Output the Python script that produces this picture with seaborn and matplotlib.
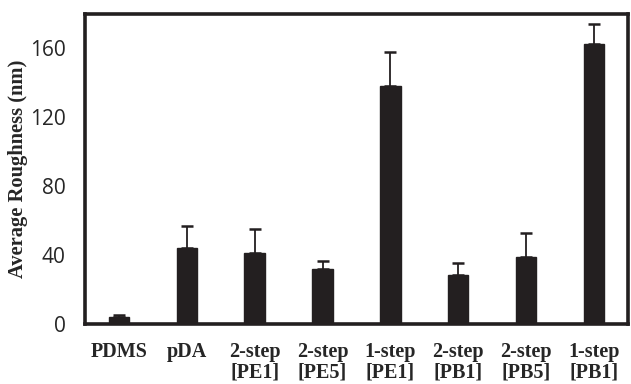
import numpy as np
import pandas as pd
import matplotlib
matplotlib.use("Agg")
import matplotlib.pyplot as plt
import seaborn as sns

# data
samples = ["PDMS", "pDA", "2-step\n[PE1]", "2-step\n[PE5]", "1-step\n[PE1]",
           "2-step\n[PB1]", "2-step\n[PB5]", "1-step\n[PB1]"]
roughness = [4.3, 44, 41, 31.7, 138, 28.6, 38.8, 162.5]
roughness_err = [0.8, 13, 14, 5, 20, 7, 14, 11.5]

df = pd.DataFrame({"sample": samples, "roughness": roughness})

sns.set_style("white")
plt.rcParams["font.family"] = ["Open Sans", "DejaVu Sans"]

fig = plt.figure(figsize=(6.31, 3.84), dpi=100)
ax = fig.add_axes([0.1347, 0.156, 0.8605, 0.8075])

bar_color = "#231f20"
sns.barplot(data=df, x="sample", y="roughness", color=bar_color, width=0.30,
            errorbar=None, saturation=1, ax=ax)
for p in ax.patches:
    p.set_edgecolor(bar_color)

xpos = ax.get_xticks()
ax.errorbar(xpos, roughness, yerr=[np.zeros(len(roughness_err)), roughness_err],
            fmt="none", ecolor=bar_color, elinewidth=1.3, capsize=4, capthick=1.8)

ax.set_xlim(-0.5, 7.5)
ax.set_ylim(0, 180)
ax.set_yticks([0, 40, 80, 120, 160])
ax.tick_params(axis="both", length=0)
ax.tick_params(axis="y", labelsize=15, pad=14)
ax.tick_params(axis="x", pad=13)

for lab in ax.get_xticklabels():
    lab.set_fontfamily("Liberation Serif")
    lab.set_fontweight("bold")
    lab.set_fontsize(14.5)
    lab.set_linespacing(1.0)
    lab.set_verticalalignment("top")

ax.set_xlabel("")
ax.set_ylabel("Average Roughness (nm)", fontfamily="Liberation Serif",
              fontweight="bold", fontsize=14.8, labelpad=1)

for s in ax.spines.values():
    s.set_visible(True)
    s.set_color("#231f20")
    s.set_linewidth(2.6)

fig.savefig("out.png", dpi=100)
